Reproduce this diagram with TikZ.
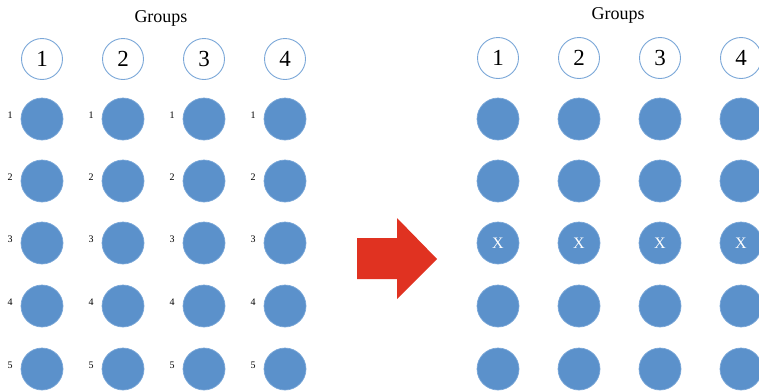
\documentclass[tikz,border=0pt]{standalone}
\usepackage{fontspec}
\setmainfont{Liberation Serif}
\definecolor{dotblue}{HTML}{5B91CB}
\definecolor{dotedge}{HTML}{7AA7D8}
\definecolor{arrowred}{HTML}{E03221}
\tikzset{
  grp/.style={circle, draw=dotedge, line width=0.9pt, fill=white, minimum size=41pt, inner sep=0pt, font=\fontsize{23}{23}\selectfont},
  dot/.style={circle, draw=dotedge, line width=0.7pt, fill=dotblue, minimum size=42pt, inner sep=0pt},
  xdot/.style={dot, text=white, font=\fontsize{16}{16}\selectfont},
  rowlab/.style={font=\fontsize{10}{10}\selectfont, inner sep=0pt},
  title/.style={font=\fontsize{18}{18}\selectfont, inner sep=0pt},
}
\begin{document}
\begin{tikzpicture}[x=1pt,y=-1pt]
\useasboundingbox (0,0) rectangle (759,391);
\node[title] (tl) at (161,18) {Groups};
\node[title] (tr) at (618,15) {Groups};
\foreach \c [count=\i] in {42,123,204,285} {
  \node[grp] (gl\i) at (\c,59) {\i};
  \foreach \r [count=\j] in {119,181,243,306,369} {
    \node[dot] (l\i-\j) at (\c,\r) {};
    \node[rowlab] (lab\i-\j) at (\c-32,\r-4) {\j};
  }
}
\foreach \c [count=\i] in {498,579,660,741} {
  \node[grp] (gr\i) at (\c,58) {\i};
  \foreach \r [count=\j] in {119,181,306,369} {
    \node[dot] (r\i-\j) at (\c,\r) {};
  }
  \node[xdot] (rx\i) at (\c,243) {X};
}
\fill[arrowred] (357,238) -- (397,238) -- (397,218) -- (437,259) -- (397,299) -- (397,279) -- (357,279) -- cycle;
\end{tikzpicture}
\end{document}
